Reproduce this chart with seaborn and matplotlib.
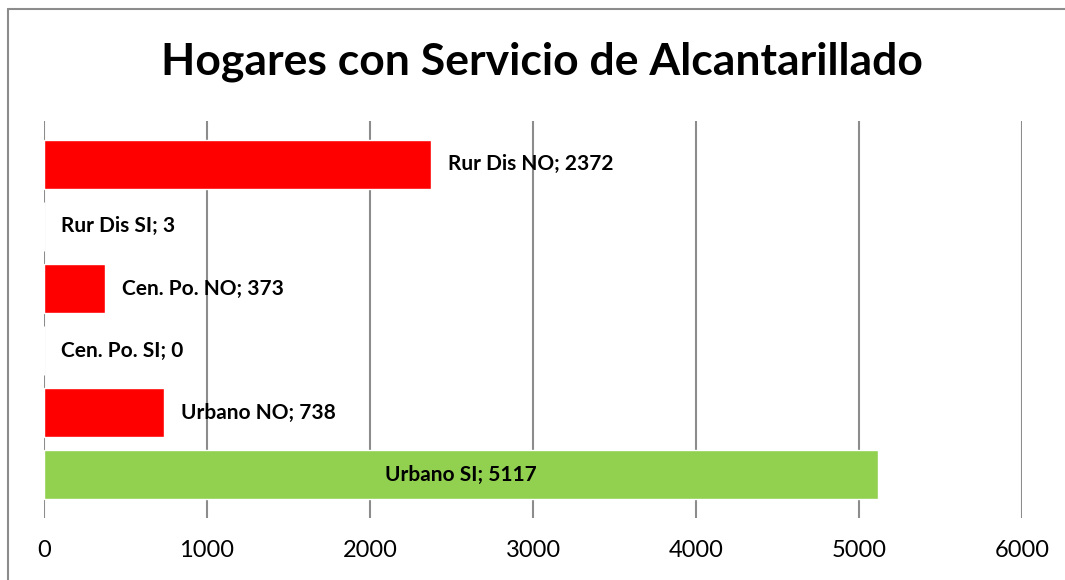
import pandas as pd
import matplotlib.pyplot as plt
import seaborn as sns
from matplotlib.lines import Line2D

categorias = ["Rur Dis NO", "Rur Dis SI", "Cen. Po. NO", "Cen. Po. SI", "Urbano NO", "Urbano SI"]
valores = [2372, 3, 373, 0, 738, 5117]
colores = ["#FF0000", "#92D050", "#FF0000", "#92D050", "#FF0000", "#92D050"]
ticks_x = [0, 1000, 2000, 3000, 4000, 5000, 6000]

df = pd.DataFrame({"categoria": categorias, "valor": valores})

sns.set_style("white")
plt.rcParams['font.family'] = ['Lato', 'DejaVu Sans']
plt.rcParams['text.color'] = 'black'
plt.rcParams['xtick.color'] = 'black'

fig = plt.figure(figsize=(10.65, 5.8), dpi=100)
ax = fig.add_axes([44 / 1065, 1 - 518 / 580, (1022 - 44) / 1065, (518 - 121) / 580])

sns.barplot(data=df, x="valor", y="categoria", hue="categoria", palette=colores,
            legend=False, width=0.8, orient="h", ax=ax, saturation=1)

ax.set_xlim(0, 6000)
ax.set_ylim(5.7, -0.7)
ax.set_xticks(ticks_x)
ax.set_xticklabels([str(t) for t in ticks_x], fontsize=17, color="black")
ax.set_yticks([])
ax.set_xlabel("")
ax.set_ylabel("")
ax.tick_params(axis="x", length=0, pad=16)
ax.grid(axis="x", color="#8c8c8c", linewidth=1.5)
ax.grid(axis="y", visible=False)
ax.set_axisbelow(True)
for s in ax.spines.values():
    s.set_visible(False)

# etiquetas de datos
for i, (cat, v) in enumerate(zip(categorias, valores)):
    txt = f"{cat}; {v}"
    if cat == "Urbano SI":
        ax.text(v / 2, i, txt, ha="center", va="center", fontsize=15,
                fontweight="bold", color="black")
    else:
        ax.annotate(txt, xy=(v, i), xytext=(17, 0), textcoords="offset pixels",
                    ha="left", va="center", fontsize=15, fontweight="bold", color="black")

fig.text(0.509, 1 - 74 / 580, "Hogares con Servicio de Alcantarillado",
         ha="center", va="baseline", fontsize=32, fontweight="bold", color="black")

# marco del grafico
fig.add_artist(Line2D([8 / 1065, 8 / 1065], [0, 1 - 9 / 580], color="#8c8c8c", lw=1.5))
fig.add_artist(Line2D([8 / 1065, 1], [1 - 9 / 580, 1 - 9 / 580], color="#8c8c8c", lw=1.5))

fig.savefig("out.png", dpi=100)
